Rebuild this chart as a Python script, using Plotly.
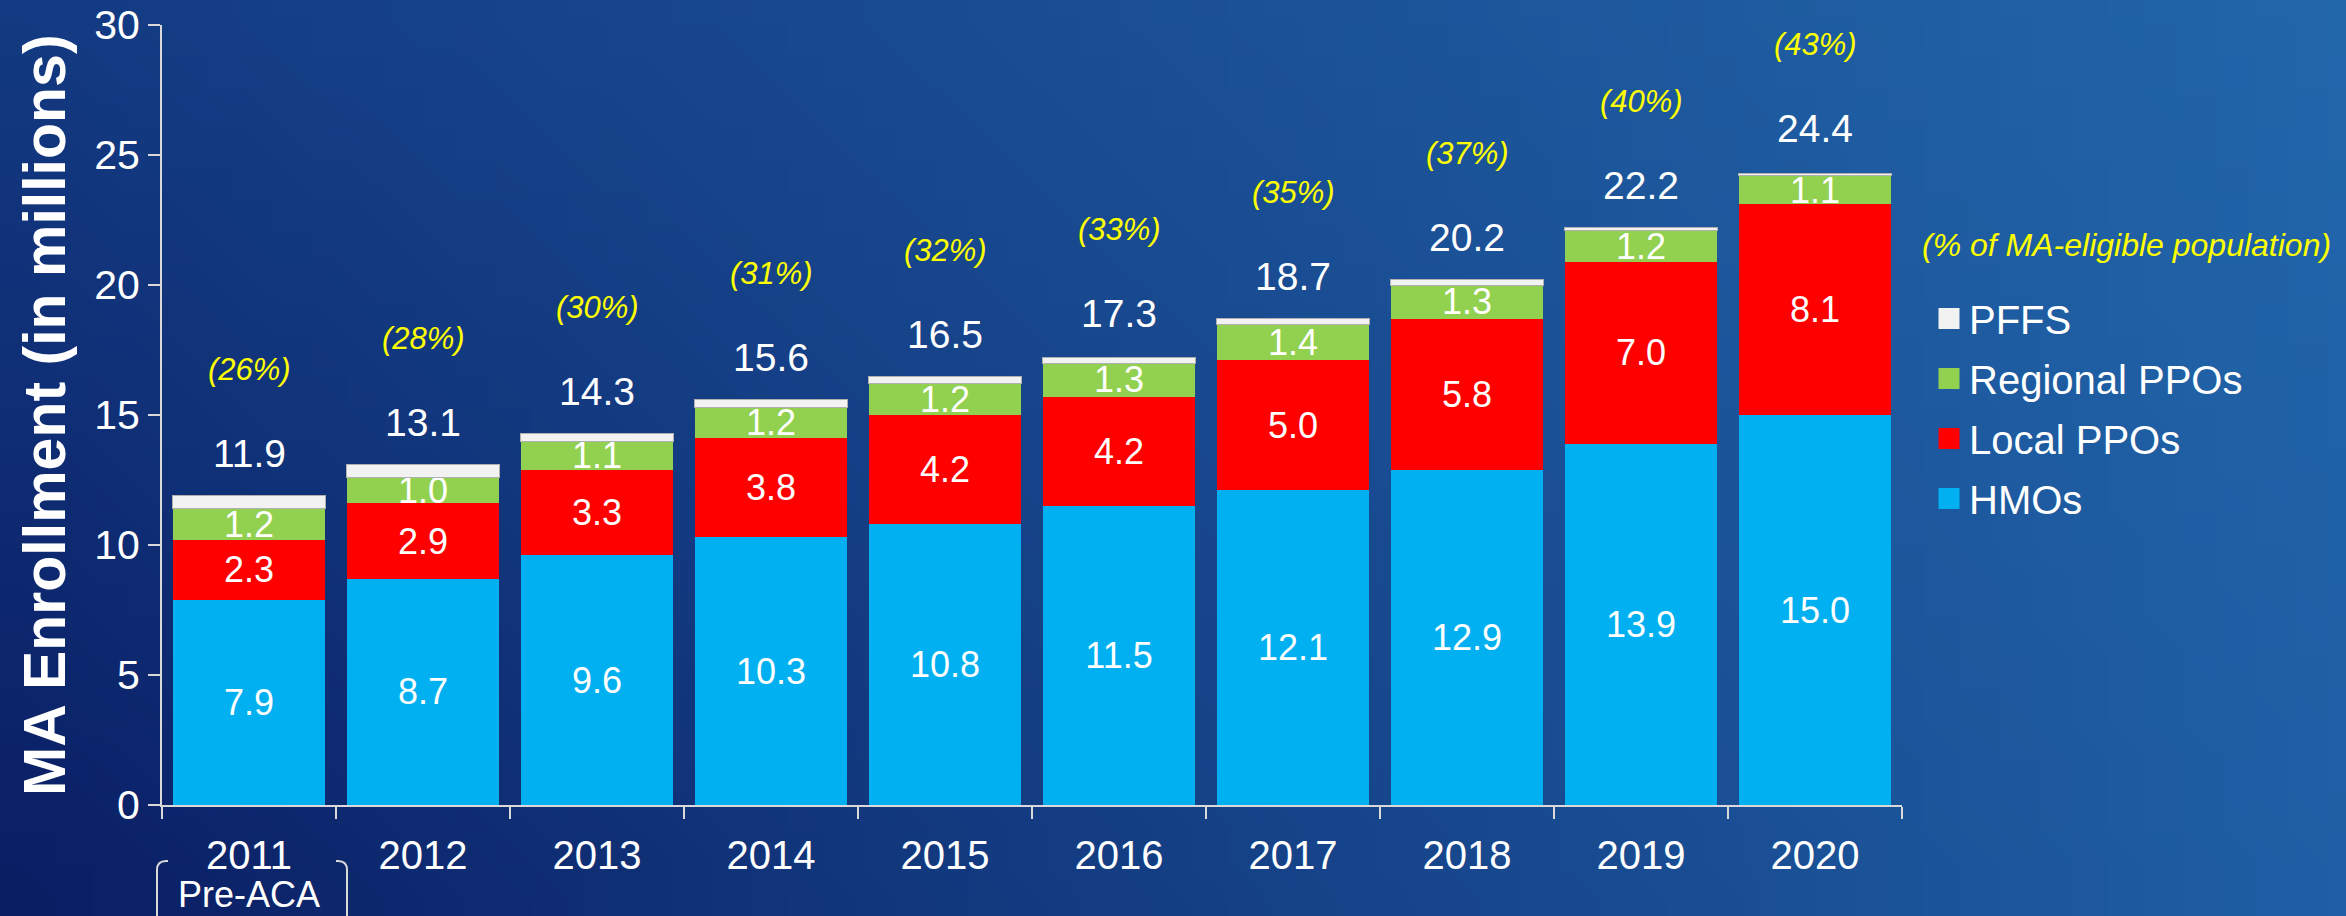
import base64
import struct
import zlib

import plotly.graph_objects as go

# ---------------- data ----------------
years = ["2011", "2012", "2013", "2014", "2015", "2016", "2017", "2018", "2019", "2020"]
hmos = [7.9, 8.7, 9.6, 10.3, 10.8, 11.5, 12.1, 12.9, 13.9, 15.0]
local_ppos = [2.3, 2.9, 3.3, 3.8, 4.2, 4.2, 5.0, 5.8, 7.0, 8.1]
regional_ppos = [1.2, 1.0, 1.1, 1.2, 1.2, 1.3, 1.4, 1.3, 1.2, 1.1]
pffs = [0.5, 0.5, 0.3, 0.3, 0.3, 0.2, 0.2, 0.2, 0.1, 0.1]
totals = [11.9, 13.1, 14.3, 15.6, 16.5, 17.3, 18.7, 20.2, 22.2, 24.4]
pct_eligible = ["(26%)", "(28%)", "(30%)", "(31%)", "(32%)", "(33%)", "(35%)", "(37%)", "(40%)", "(43%)"]
y_ticks = [0, 5, 10, 15, 20, 25, 30]

# ---------------- layout geometry ----------------
W, H = 2346, 916
ML, MR, MT, MB = 162, 444, 25, 111
PW, PH = W - ML - MR, H - MT - MB

FONT = "Arial, Liberation Sans, sans-serif"
WHITE = "#ffffff"
YELLOW = "#ffff00"
AXIS = "#d9d9d9"


def px_to_paper(px, py):
    return (px - ML) / PW, (H - MB - py) / PH


# ---------------- gradient background (PNG data uri) ----------------
def gradient_png(w, h, tl, tr, bl, br):
    rows = []
    for j in range(h):
        v = j / (h - 1)
        row = bytearray([0])
        for i in range(w):
            u = i / (w - 1)
            for c in range(3):
                top = tl[c] * (1 - u) + tr[c] * u
                bot = bl[c] * (1 - u) + br[c] * u
                row.append(int(round(top * (1 - v) + bot * v)))
        rows.append(bytes(row))
    raw = b"".join(rows)

    def chunk(tag, data):
        return (struct.pack(">I", len(data)) + tag + data
                + struct.pack(">I", zlib.crc32(tag + data) & 0xFFFFFFFF))

    png = (b"\x89PNG\r\n\x1a\n"
           + chunk(b"IHDR", struct.pack(">IIBBBBB", w, h, 8, 2, 0, 0, 0))
           + chunk(b"IDAT", zlib.compress(raw, 9))
           + chunk(b"IEND", b""))
    return "data:image/png;base64," + base64.b64encode(png).decode()


bg_src = gradient_png(64, 26, (19, 58, 130), (34, 102, 170), (10, 30, 100), (31, 95, 165))

# ---------------- figure ----------------
fig = go.Figure()

series = [
    ("HMOs", hmos, "#00b0f0", True, 4),
    ("Local PPOs", local_ppos, "#ff0000", True, 3),
    ("Regional PPOs", regional_ppos, "#92d050", True, 2),
    ("PFFS", pffs, "#f2f2f2", False, 1),
]
for name, vals, color, show_text, rank in series:
    fig.add_trace(go.Bar(
        name=name,
        x=years,
        y=vals,
        marker=dict(color=color,
                    line=dict(width=1 if name == "PFFS" else 0, color="#b0b0b0")),
        text=[f"{v:.1f}" for v in vals] if show_text else None,
        textposition="inside" if show_text else "none",
        insidetextanchor="middle",
        textangle=0,
        constraintext="none",
        textfont=dict(family=FONT, size=36, color=WHITE),
        cliponaxis=False,
        legendgroup=name,
        showlegend=False,
        hoverinfo="x+y+name",
    ))
    # legend entry with a larger square swatch
    fig.add_trace(go.Scatter(
        name=name, x=[None], y=[None], mode="markers",
        marker=dict(symbol="square", size=16, color=color,
                    line=dict(width=5, color=color)),
        legendgroup=name, legendrank=rank, showlegend=True, hoverinfo="skip",
    ))

annotations = []
for i, (tot, pct) in enumerate(zip(totals, pct_eligible)):
    annotations.append(dict(x=i, y=tot, xref="x", yref="y", text=f"{tot:.1f}",
                            showarrow=False, yanchor="middle", yshift=42,
                            font=dict(family=FONT, size=39, color=WHITE)))
    annotations.append(dict(x=i, y=tot, xref="x", yref="y", text=f"<i>{pct}</i>",
                            showarrow=False, yanchor="middle", yshift=126,
                            font=dict(family=FONT, size=31, color=YELLOW)))

# "(% of MA-eligible population)" note
nx, ny = px_to_paper(1920, 245)
annotations.append(dict(x=nx, y=ny, xref="paper", yref="paper", xanchor="left",
                        yanchor="middle", showarrow=False,
                        text="<i>(% of MA-eligible population)</i>",
                        font=dict(family=FONT, size=32, color=YELLOW)))

# "Pre-ACA" under 2011
_, pay = px_to_paper(0, 894)
annotations.append(dict(x=0, y=pay, xref="x", yref="paper", showarrow=False,
                        yanchor="middle", text="Pre-ACA",
                        font=dict(family=FONT, size=36, color=WHITE)))

# bracket around the 2011 / Pre-ACA label
shapes = []


def bracket(x_edge, x_hook, y_top, y_bot, r=9):
    sgn = 1 if x_hook > x_edge else -1
    p0 = px_to_paper(x_hook, y_top)
    p1 = px_to_paper(x_edge + sgn * r, y_top)
    c = px_to_paper(x_edge, y_top)
    p2 = px_to_paper(x_edge, y_top + r)
    p3 = px_to_paper(x_edge, y_bot)
    return (f"M {p0[0]},{p0[1]} L {p1[0]},{p1[1]} Q {c[0]},{c[1]} {p2[0]},{p2[1]} "
            f"L {p3[0]},{p3[1]}")


for xe, xh in [(157, 168), (347, 336)]:
    shapes.append(dict(type="path", xref="paper", yref="paper",
                       path=bracket(xe, xh, 861, 930),
                       line=dict(color=AXIS, width=2)))

lx, ly = px_to_paper(1929, 286)
img_x, img_y = px_to_paper(0, 0)
tx, _ = px_to_paper(45, 0)

annotations.append(dict(x=tx, y=0.5, xref="paper", yref="paper", textangle=-90,
                        xanchor="center", yanchor="middle", showarrow=False,
                        text="<b>MA Enrollment (in millions)</b>",
                        font=dict(family=FONT, size=59, color=WHITE)))

fig.update_layout(
    width=W, height=H,
    margin=dict(l=ML, r=MR, t=MT, b=MB, pad=0, autoexpand=False),
    barmode="stack",
    bargap=0.126,
    paper_bgcolor="#123680",
    plot_bgcolor="rgba(0,0,0,0)",
    font=dict(family=FONT, color=WHITE),
    images=[dict(source=bg_src, xref="paper", yref="paper", x=img_x, y=img_y,
                 sizex=W / PW, sizey=H / PH, xanchor="left", yanchor="top",
                 sizing="stretch", layer="below")],
    xaxis=dict(
        type="category",
        range=[-0.5, len(years) - 0.5],
        automargin=False,
        showgrid=False, zeroline=False,
        showline=True, linecolor=AXIS, linewidth=2,
        ticks="outside", tickson="boundaries", ticklen=12, tickwidth=2, tickcolor=AXIS,
        tickangle=0,
        tickfont=dict(family=FONT, size=40, color=WHITE),
        ticklabelstandoff=14,
    ),
    yaxis=dict(
        range=[0, 30],
        automargin=False,
        tickvals=y_ticks,
        showgrid=False, zeroline=False,
        showline=True, linecolor=AXIS, linewidth=2,
        ticks="outside", ticklen=12, tickwidth=2, tickcolor=AXIS,
        tickfont=dict(family=FONT, size=41, color=WHITE),
    ),
    legend=dict(
        x=lx, y=ly, xanchor="left", yanchor="top",
        traceorder="grouped",
        tracegroupgap=5,
        bgcolor="rgba(0,0,0,0)",
        font=dict(family=FONT, size=40, color=WHITE),
    ),
    annotations=annotations,
    shapes=shapes,
    showlegend=True,
)

fig.write_html("out.html", config={"displayModeBar": False},
               post_script="document.body.style.margin='0';")
